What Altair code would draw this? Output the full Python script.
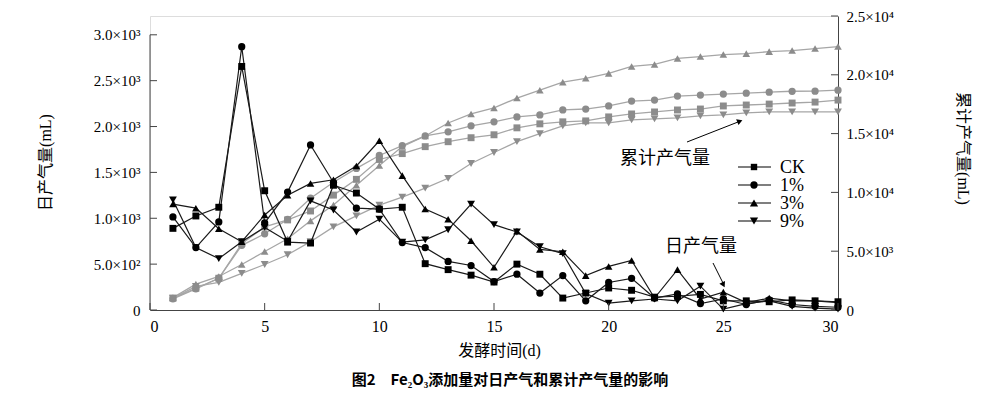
import altair as alt
import pandas as pd

days = list(range(1, 31))
series = ["CK", "1%", "3%", "9%"]
shapes = ["square", "circle", "triangle-up", "triangle-down"]

# daily gas production (mL)
daily_ck = [890, 1025, 1120, 2655, 1300, 740, 730, 1360, 1275, 1100, 1120, 505, 440, 380, 305,
            500, 390, 130, 185, 240, 215, 140, 150, 170, 100, 100, 90, 110, 100, 90]
daily_1 = [1015, 680, 960, 2870, 950, 1285, 1800, 1390, 1110, 1100, 735, 680, 530, 485, 310,
           390, 185, 375, 100, 300, 345, 130, 175, 70, 120, 60, 110, 60, 40, 30]
daily_3 = [1155, 1110, 885, 745, 1036, 1250, 1380, 1420, 1570, 1845, 1465, 1100, 990, 755, 465,
           860, 660, 635, 375, 475, 540, 130, 440, 120, 195, 80, 130, 100, 100, 80]
daily_9 = [1200, 680, 560, 745, 900, 750, 1190, 1090, 850, 990, 740, 765, 875, 1155, 930,
           850, 690, 615, 180, 75, 100, 120, 100, 260, 10, 70, 100, 40, 20, 10]

# cumulative gas production (mL)
cum_ck = [1000, 1850, 2700, 5640, 7070, 7660, 8420, 9770, 11110, 12800, 13300, 13890, 14310, 14650, 14900,
          15490, 15830, 16000, 16080, 16420, 16670, 16840, 17010, 17090, 17350, 17430, 17510, 17600, 17680, 17850]
cum_1 = [950, 1800, 2700, 5500, 6480, 7700, 9510, 10860, 12040, 13140, 13980, 14800, 15150, 15660, 16000,
         16420, 16590, 17010, 17090, 17350, 17770, 17850, 18190, 18280, 18360, 18440, 18520, 18600, 18610, 18690]
cum_3 = [1050, 2200, 2850, 3870, 4970, 6060, 7580, 8920, 10600, 12290, 13900, 14800, 15900, 16670, 17180,
         18020, 18690, 19370, 19700, 20120, 20710, 20880, 21390, 21550, 21720, 21800, 21970, 22060, 22230, 22400]
cum_9 = [1000, 2000, 2350, 3120, 3870, 4700, 5810, 7070, 8000, 8920, 9600, 10360, 11200, 12460, 13390,
         14310, 14990, 15660, 15910, 15910, 16170, 16250, 16330, 16500, 16590, 16760, 16840, 16840, 16840, 16840]

x_ticks = [0, 5, 10, 15, 20, 25, 30]
left_ticks = [0, 500, 1000, 1500, 2000, 2500, 3000]
right_ticks = [0, 5000, 10000, 15000, 20000, 25000]

def long(arrs):
    rows = []
    for s, arr in zip(series, arrs):
        for d, v in zip(days, arr):
            rows.append({"day": d, "series": s, "value": v})
    return pd.DataFrame(rows)

daily_df = long([daily_ck, daily_1, daily_3, daily_9])
cum_df = long([cum_ck, cum_1, cum_3, cum_9])

SERIF = "Liberation Serif, Noto Sans CJK SC"
W, H = 688, 294
DY = -4  # shift of annotation positions relative to the plot top
label_expr = ("datum.value==0?'0':datum.value<1000?format(datum.value/100,'.1f')+'×10²':"
              "datum.value<10000?format(datum.value/1000,'.1f')+'×10³':format(datum.value/10000,'.1f')+'×10⁴'")

xscale = alt.Scale(domain=[0, 30], nice=False)
lscale = alt.Scale(domain=[0, 3205], nice=False)
rscale = alt.Scale(domain=[0, 25000], nice=False)
marker_sizes = [48, 62, 80, 80]
shape_enc = alt.Shape("series:N", scale=alt.Scale(domain=series, range=shapes), legend=None)
size_enc = alt.Size("series:N", scale=alt.Scale(domain=series, range=marker_sizes), legend=None)

# identical axis objects for every layer that shares a scale
x_axis = alt.Axis(values=x_ticks, ticks=False, labelFont=SERIF, labelFontSize=16, labelColor="black",
                  labelPadding=8, domainColor="#444", title="发酵时间(d)", titleFont=SERIF,
                  titleFontSize=16, titleFontWeight="normal", titleColor="black",
                  titleX=349, titleY=40, titleBaseline="middle", titleAlign="center", grid=False)
r_axis = alt.Axis(orient="right", values=right_ticks, labelExpr=label_expr, ticks=False,
                  labelFont=SERIF, labelFontSize=15, labelColor="black", labelPadding=8,
                  domainColor="#444", grid=False, title="累计产气量(mL)", titleFont=SERIF,
                  titleFontSize=16, titleFontWeight="normal", titleColor="black",
                  titleAngle=90, titleX=124, titleY=132, titleBaseline="middle", titleAlign="center")
l_axis = alt.Axis(orient="left", values=left_ticks, labelExpr=label_expr, ticks=False,
                  domain=False, labelFont=SERIF, labelFontSize=15, labelColor="black",
                  labelPadding=10, grid=False, title="日产气量(mL)", titleFont=SERIF,
                  titleFontSize=16, titleFontWeight="normal", titleColor="black",
                  titleAngle=-90, titleX=-105, titleY=146, titleBaseline="middle", titleAlign="center")

# ---------- right (cumulative) ----------
cum_base = alt.Chart(cum_df).encode(
    x=alt.X("day:Q", scale=xscale, axis=x_axis),
    y=alt.Y("value:Q", scale=rscale, axis=r_axis),
    detail="series:N",
)
cum_lines = cum_base.mark_line(color="#a6a6a6", strokeWidth=1.3)
cum_pts = cum_base.mark_point(filled=True, opacity=1, color="#8c8c8c").encode(shape=shape_enc, size=size_enc)
r_ticks = alt.Chart(pd.DataFrame({"value": right_ticks})).mark_rule(color="#444").encode(
    y=alt.Y("value:Q", scale=rscale, axis=r_axis), x=alt.value(W), x2=alt.value(W - 7))
right = alt.layer(cum_lines, cum_pts, r_ticks)

# ---------- left (daily) ----------
day_base = alt.Chart(daily_df).encode(
    x=alt.X("day:Q", scale=xscale, axis=x_axis),
    y=alt.Y("value:Q", scale=lscale, axis=l_axis),
    detail="series:N",
)
day_lines = day_base.mark_line(color="#1a1a1a", strokeWidth=1.2)
day_pts = day_base.mark_point(filled=True, opacity=1, color="black").encode(shape=shape_enc, size=size_enc)
l_ticks = alt.Chart(pd.DataFrame({"value": left_ticks})).mark_rule(color="#444").encode(
    y=alt.Y("value:Q", scale=lscale, axis=l_axis), x=alt.value(0), x2=alt.value(7))
l_line = alt.Chart(pd.DataFrame({"value": [0], "value2": [left_ticks[-1]]})).mark_rule(color="#444").encode(
    x=alt.value(0), y=alt.Y("value:Q", scale=lscale, axis=l_axis), y2="value2:Q")
x_tk = alt.Chart(pd.DataFrame({"day": x_ticks})).mark_rule(color="#444").encode(
    x=alt.X("day:Q", scale=xscale, axis=x_axis), y=alt.value(H), y2=alt.value(H - 7))
left = alt.layer(day_lines, day_pts, l_ticks, l_line, x_tk)

# ---------- legend & annotations ----------
one = pd.DataFrame({"a": [0]})
extras = []
for i, (s, shp, sz) in enumerate(zip(series, shapes, marker_sizes)):
    ly = 155 + DY + 18 * i
    row = alt.Chart(pd.DataFrame({"series": [s]}))
    extras.append(row.mark_rule(color="black", strokeWidth=1.2).encode(
        x=alt.value(588), x2=alt.value(621), y=alt.value(ly)))
    extras.append(row.mark_point(filled=True, opacity=1, color="black").encode(
        x=alt.value(604), y=alt.value(ly), shape=alt.value(shp), size=alt.value(sz * 0.85)))
    extras.append(row.mark_text(align="left", baseline="middle", font=SERIF, fontSize=18,
                                color="black").encode(x=alt.value(630), y=alt.value(ly + 1),
                                                      text="series:N"))

ann_df = pd.DataFrame({"label": ["累计产气量", "日产气量"]})
ann = alt.Chart(ann_df)
extras.append(ann.transform_filter(alt.datum.label == "累计产气量").mark_text(
    font=SERIF, fontSize=18, color="black").encode(x=alt.value(515), y=alt.value(147 + DY), text="label:N"))
extras.append(ann.transform_filter(alt.datum.label == "日产气量").mark_text(
    font=SERIF, fontSize=18, color="black").encode(x=alt.value(551), y=alt.value(235 + DY), text="label:N"))
extras.append(alt.Chart(one).mark_rule(color="black", strokeWidth=1).encode(
    x=alt.value(537), y=alt.value(130 + DY), x2=alt.value(588), y2=alt.value(110 + DY)))
extras.append(alt.Chart(one).mark_point(shape="triangle", filled=True, opacity=1, color="black",
                                        size=40, angle=68).encode(x=alt.value(589), y=alt.value(109.5 + DY)))
extras.append(alt.Chart(one).mark_rule(color="black", strokeWidth=1).encode(
    x=alt.value(563), y=alt.value(251 + DY), x2=alt.value(573), y2=alt.value(271 + DY)))
extras.append(alt.Chart(one).mark_point(shape="triangle", filled=True, opacity=1, color="black",
                                        size=40, angle=153).encode(x=alt.value(573), y=alt.value(272 + DY)))

cap_df = pd.DataFrame({"caption": ["图2　Fe₂O₃添加量对日产气和累计产气量的影响"]})
extras.append(alt.Chart(cap_df).mark_text(font="Noto Sans CJK SC", fontSize=15, fontWeight="bold",
                                          color="black").encode(
    x=alt.value(360), y=alt.value(368 + DY), text="caption:N"))

chart = alt.layer(right, left, *extras).resolve_scale(y="independent").properties(
    width=W, height=H,
    autosize=alt.AutoSizeParams(type="none"),
    padding={"left": 142, "top": 8, "right": 150, "bottom": 79},
).configure_view(stroke=None).configure(background="white")

chart.save("out.html", embed_options={"renderer": "svg", "actions": False})
